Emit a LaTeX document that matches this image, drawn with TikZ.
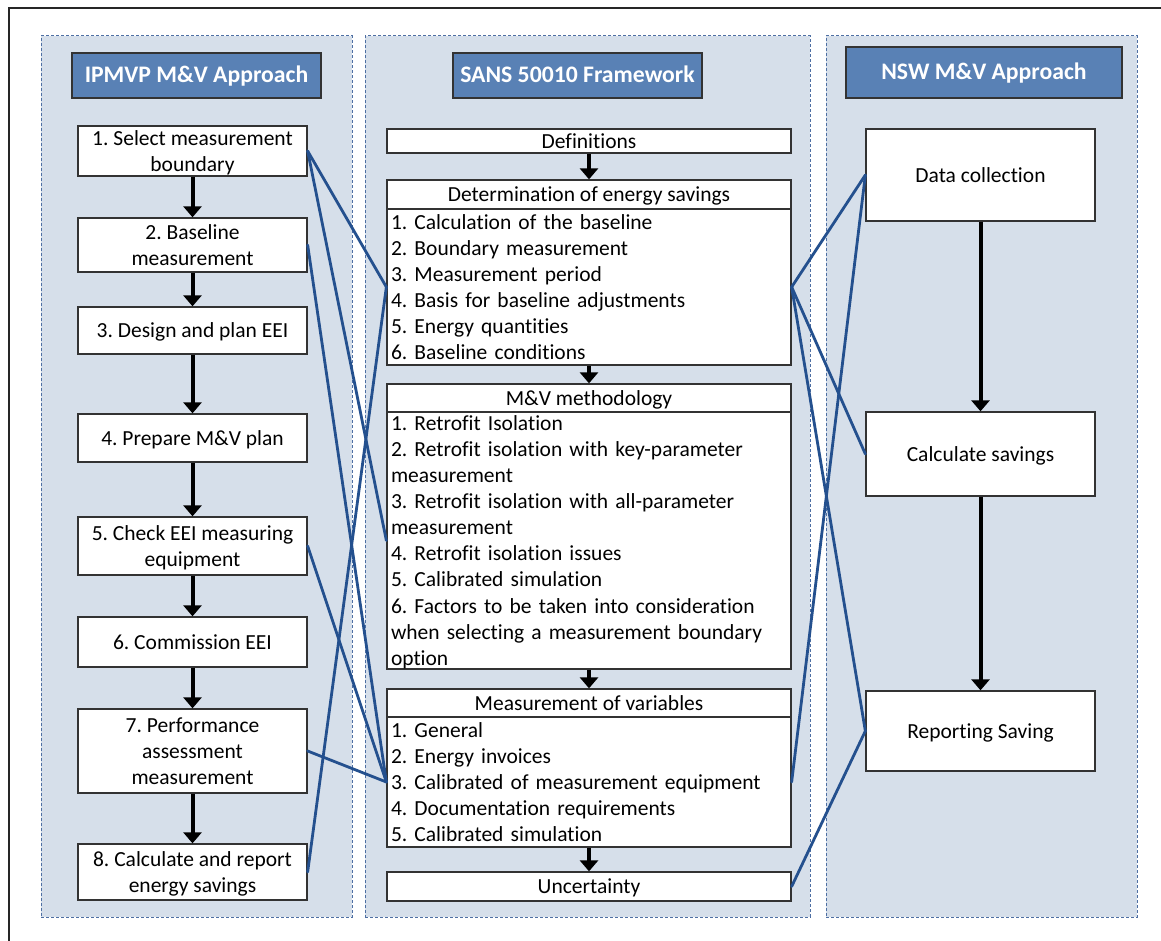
\documentclass[tikz,border=0pt]{standalone}
\usepackage{fontspec}
\setmainfont{Carlito}[Ligatures=NoCommon]
\usetikzlibrary{arrows.meta}
\frenchspacing

\definecolor{panelfill}{HTML}{D6DFEA}
\definecolor{paneledge}{HTML}{4E6FA3}
\definecolor{headfill}{HTML}{5981B5}
\definecolor{linkblue}{HTML}{24508E}
\definecolor{boxedge}{HTML}{333333}

\newcommand{\bodyfont}{\fontsize{21.5}{26.1}\selectfont}
\newcommand{\lnstrut}{\rule[-3pt]{0pt}{21pt}}

\tikzset{
  panel/.style={draw=paneledge, fill=panelfill, line width=1pt,
    dash pattern=on 3pt off 2pt, inner sep=0pt},
  header/.style={draw=boxedge, fill=headfill, line width=1.3pt, text=white,
    font=\bfseries\fontsize{23.7}{28}\selectfont, inner sep=0pt,
    text height=15pt, text depth=0pt},
  stepbox/.style={draw=boxedge, fill=white, line width=1.3pt,
    minimum width=229pt, align=center, inner sep=0pt, font=\bodyfont},
  titlebox/.style={draw=boxedge, fill=white, line width=1.3pt,
    minimum width=404pt, inner sep=0pt, font=\bodyfont},
  listbox/.style={draw=boxedge, fill=white, line width=1.3pt,
    text width=396pt, inner xsep=4pt, inner ysep=0pt, align=left,
    font=\bodyfont},
  flow/.style={line width=4pt, black,
    -{Triangle[width=18pt,length=11pt]}},
  link/.style={draw=linkblue, line width=2.8pt, line cap=round}
}

\begin{document}
\begin{tikzpicture}[x=1pt, y=-1pt]
\useasboundingbox (0,0) rectangle (1161,941);

% outer frame
\draw[line width=1.3pt, black!85] (9,941) -- (9,8) -- (1161,8);

% three column panels
\node[panel, minimum width=311pt, minimum height=881pt] (lp) at (196.5,476.5) {};
\node[panel, minimum width=445pt, minimum height=881pt] (mp) at (587.5,476.5) {};
\node[panel, minimum width=311pt, minimum height=881pt] (rp) at (981.5,476.5) {};

% column headers
\node[header, minimum width=249pt, minimum height=45pt] (lh) at (196.5,75.5) {IPMVP M\&V Approach};
\node[header, minimum width=249pt, minimum height=45pt] (mh) at (577.5,75.5) {SANS 50010 Framework};
\node[header, minimum width=276pt, minimum height=51pt] (rh) at (984,72.5) {NSW M\&V Approach};

% IPMVP steps
\node[stepbox, minimum height=50pt] (b1) at (192.5,151) {\lnstrut 1. Select measurement\\\lnstrut boundary};
\node[stepbox, minimum height=54pt] (b2) at (192.5,245) {\lnstrut 2. Baseline\\\lnstrut measurement};
\node[stepbox, minimum height=47pt] (b3) at (192.5,330.5) {\lnstrut 3. Design and plan EEI};
\node[stepbox, minimum height=48pt] (b4) at (192.5,438) {\lnstrut 4. Prepare M\&V plan};
\node[stepbox, minimum height=58pt] (b5) at (192.5,546) {\lnstrut 5. Check EEI measuring\\\lnstrut equipment};
\node[stepbox, minimum height=50pt] (b6) at (192.5,642) {\lnstrut 6. Commission EEI};
\node[stepbox, minimum height=84pt] (b7) at (192.5,751) {\lnstrut 7. Performance\\\lnstrut assessment\\\lnstrut measurement};
\node[stepbox, minimum height=56pt] (b8) at (192.5,872) {\lnstrut 8. Calculate and report\\\lnstrut energy savings};

% SANS 50010 sections
\node[titlebox, minimum height=24pt] (defs) at (589,141) {\lnstrut Definitions};
\node[titlebox, minimum height=29pt] (detT) at (589,194.5) {\lnstrut Determination of energy savings};
\node[listbox, minimum height=156pt] (detB) at (589,287) {%
\lnstrut 1. Calculation of the baseline\\
\lnstrut 2. Boundary measurement\\
\lnstrut 3. Measurement period\\
\lnstrut 4. Basis for baseline adjustments\\
\lnstrut 5. Energy quantities\\
\lnstrut 6. Baseline conditions};
\node[titlebox, minimum height=28pt] (mvT) at (589,398) {\lnstrut M\&V methodology};
\node[listbox, minimum height=257pt] (mvB) at (589,540.5) {%
\lnstrut 1. Retrofit Isolation\\
\lnstrut 2. Retrofit isolation with key-parameter\\
\lnstrut measurement\\
\lnstrut 3. Retrofit isolation with all-parameter\\
\lnstrut measurement\\
\lnstrut 4. Retrofit isolation issues\\
\lnstrut 5. Calibrated simulation\\
\lnstrut 6. Factors to be taken into consideration\\
\lnstrut when selecting a measurement boundary\\
\lnstrut option};
\node[titlebox, minimum height=28pt] (movT) at (589,703) {\lnstrut Measurement of variables};
\node[listbox, minimum height=130pt] (movB) at (589,782) {%
\lnstrut 1. General\\
\lnstrut 2. Energy invoices\\
\lnstrut 3. Calibrated of measurement equipment\\
\lnstrut 4. Documentation requirements\\
\lnstrut 5. Calibrated simulation};
\node[titlebox, minimum height=29pt] (unc) at (589,886.5) {\lnstrut Uncertainty};

% NSW steps
\node[stepbox, minimum height=92pt] (dc) at (980.5,175) {\lnstrut Data collection};
\node[stepbox, minimum height=84pt] (cs) at (980.5,454) {\lnstrut Calculate savings};
\node[stepbox, minimum height=80pt] (rs) at (980.5,731) {\lnstrut Reporting Saving};

% sequence arrows
\foreach \a/\b in {b1/b2, b2/b3, b3/b4, b4/b5, b5/b6, b6/b7, b7/b8,
                   defs/detT, detB/mvT, mvB/movT, movB/unc, dc/cs, cs/rs}
  \draw[flow] (\a.south) -- (\b.north);

% cross references between the frameworks
\draw[link] (b1.east) -- (detB.west);
\draw[link] (b1.east) -- (mvB.west);
\draw[link] (b8.east) -- (detB.west);
\draw[link] (b2.east) -- (movB.west);
\draw[link] (b5.east) -- (movB.west);
\draw[link] (b7.east) -- (movB.west);

\draw[link] (detB.east) -- (dc.west);
\draw[link] (detB.east) -- (cs.west);
\draw[link] (detB.east) -- (rs.west);
\draw[link] (dc.west) -- (movB.east);
\draw[link] (rs.west) -- (unc.east);
\end{tikzpicture}
\end{document}
